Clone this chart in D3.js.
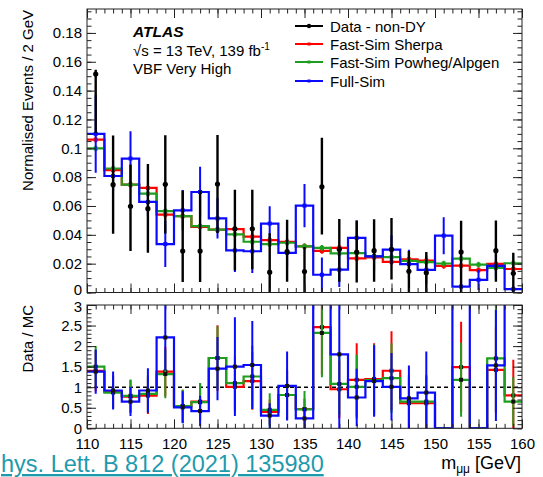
<!DOCTYPE html>
<html lang="en">
<head>
<meta charset="UTF-8">
<title>VBF Very High - m_mumu</title>
<script src="https://d3js.org/d3.v7.min.js"></script>
<style>
  body { margin: 0; background: #fff; }
  svg { display: block; font-family: "Liberation Sans", Arial, Helvetica, sans-serif; }
</style>
</head>
<body>
<svg id="chart"></svg>
<script>
// bins (2 GeV wide)
const binLow = [110, 112, 114, 116, 118, 120, 122, 124, 126, 128, 130, 132, 134,
                136, 138, 140, 142, 144, 146, 148, 150, 152, 154, 156, 158];
const binWidth = 2;

// top panel: normalised events
const dataVal   = [0.1515, 0.0748, 0.0598, 0.0581, 0.0750, 0.0287, 0.0287, 0.0752, 0.0442, 0.0442, 0.0141, 0.0284, 0.0145,
                   0.0733, 0.0300, 0.0280, 0.0290, 0.0300, 0.0147, 0.0137, null, 0.0280, null, 0.0290, 0.0133];
const dataErrLo = [0.041, 0.034, 0.031, 0.0305, 0.034, 0.0215, 0.0215, 0.034, 0.029, 0.028, 0.020, 0.021, 0.020,
                   0.033, 0.0225, 0.021, 0.0215, 0.021, 0.020, 0.020, null, 0.028, null, 0.0215, 0.020];
const dataErrHi = [0.003, 0.034, 0.029, 0.031, 0.034, 0.042, 0.042, 0.034, 0.027, 0.027, 0.027, 0.022, 0.017,
                   0.034, 0.021, 0.022, 0.0218, 0.0217, 0.014, 0.0143, null, 0.0217, null, 0.021, 0.0143];

const sherpa  = [0.106, 0.0848, 0.0748, 0.0725, 0.054, 0.053, 0.0455, 0.0436, 0.0440, 0.0387, 0.0363, 0.0352, 0.032,
                 0.0288, 0.031, 0.0236, 0.0243, 0.0213, 0.0230, 0.0221, 0.0185, 0.0186, 0.0155, 0.0199, 0.0163];
const powheg  = [0.0999, 0.086, 0.0748, 0.0686, 0.0565, 0.053, 0.046, 0.0436, 0.0403, 0.0352, 0.0335, 0.0345, 0.032,
                 0.031, 0.0271, 0.0273, 0.0252, 0.0246, 0.0219, 0.0211, 0.0201, 0.0235, 0.0193, 0.0170, 0.0203];
const fullSim = [0.110, 0.0808, 0.0929, 0.0628, 0.0336, 0.057, 0.0697, 0.0514, 0.0292, 0.0286, 0.0478, 0.0275, 0.0602,
                 0.0123, 0.0158, 0.0379, 0.025, 0.0297, 0.0197, 0.0157, 0.0394, 0.0041, 0.0088, 0.0185, 0.0023];
const sherpaErr  = [0.002, 0.002, 0.002, 0.002, 0.002, 0.002, 0.002, 0.002, 0.002, 0.002, 0.002, 0.002, 0.002,
                    0.002, 0.002, 0.002, 0.002, 0.002, 0.002, 0.002, 0.002, 0.002, 0.002, 0.002, 0.002];
const powhegErr  = [0.002, 0.002, 0.002, 0.002, 0.002, 0.002, 0.002, 0.002, 0.002, 0.002, 0.002, 0.002, 0.002,
                    0.002, 0.002, 0.002, 0.002, 0.002, 0.002, 0.002, 0.002, 0.002, 0.002, 0.002, 0.002];
const fullSimErr = [0.027, 0.010, 0.019, 0.010, 0.016, 0.014, 0.0175, 0.014, 0.015, 0.015, 0.012, 0.010, 0.015,
                    0.012, 0.012, 0.012, 0.010, 0.010, 0.010, 0.010, 0.0128, 0.002, 0.007, 0.008, 0.002];

// bottom panel: data / MC
const ratioSherpa = [1.40, 0.885, 0.77, 0.795, 1.38, 0.54, 0.65, 1.71, 1.01, 1.15, 0.40, 0.81, 0.47,
                     2.46, 0.95, 1.18, 1.20, 1.40, 0.61, 0.61, 0, 1.49, 0, 1.42, 0.80];
const ratioPowheg = [1.50, 0.87, 0.79, 0.84, 1.32, 0.54, 0.635, 1.71, 1.10, 1.26, 0.45, 0.81, 0.46,
                     2.32, 1.08, 1.01, 1.17, 1.22, 0.65, 0.65, 0, 1.18, 0, 1.70, 0.65];
const ratioFull   = [1.38, 0.92, 0.65, 0.92, 2.21, 0.51, 0.42, 1.45, 1.50, 1.54, 0.31, 1.03, 0.24,
                     5.95, 1.80, 0.75, 1.15, 1.01, 0.73, 0.87, 0, 6.40, 0, 1.53, 5.50];
const ratioSherpaErr = [0.50, 0.40, 0.40, 0.45, 0.60, 0.40, 0.45, 0.80, 0.60, 0.70, 0.30, 0.60, 0.25,
                        1.15, 0.70, 0.89, 0.87, 0.96, 0.65, 0.65, 0, 1.10, 0, 1.05, 0.87];
const ratioPowhegErr = [0.50, 0.40, 0.40, 0.45, 0.59, 0.40, 0.47, 0.77, 0.65, 0.75, 0.40, 0.60, 0.45,
                        1.08, 0.75, 0.78, 0.87, 0.85, 0.65, 0.65, 0, 0.90, 0, 1.30, 0.60];
const ratioFullErr   = [0.54, 0.46, 0.35, 0.54, 0.80, 0.39, 0.37, 0.77, 1.20, 1.07, 0.30, 0.84, 0.25,
                        0, 1.90, 0.70, 0.87, 0.82, 0.80, 1.00, 0, 0, 0, 1.35, 0];

// axis ticks / labels
const xTicks = [110, 115, 120, 125, 130, 135, 140, 145, 150, 155, 160];
const topYTicks = [0, 0.02, 0.04, 0.06, 0.08, 0.1, 0.12, 0.14, 0.16, 0.18];
const ratioYTicks = [0, 0.5, 1, 1.5, 2, 2.5, 3];

const legendLabels = ["Data - non-DY", "Fast-Sim Sherpa", "Fast-Sim Powheg/Alpgen", "Full-Sim"];
const colors = { data: "#000000", sherpa: "#ff0000", powheg: "#1e9e1e", full: "#0a0aff" };

const W = 543, H = 477;
const svg = d3.select("#chart").attr("width", W).attr("height", H);

const x = d3.scaleLinear().domain([110, 160]).range([87, 522]);
const yTop = d3.scaleLinear().domain([0, 0.1966]).range([292.5, 9]);
const yRat = d3.scaleLinear().domain([0, 3]).range([428.3, 305]);

// clip paths
const defs = svg.append("defs");
defs.append("clipPath").attr("id", "clipTop").append("rect")
    .attr("x", x(110)).attr("y", yTop(0.1966)).attr("width", x(160) - x(110)).attr("height", yTop(0) - yTop(0.1966));
defs.append("clipPath").attr("id", "clipRat").append("rect")
    .attr("x", x(110)).attr("y", yRat(3)).attr("width", x(160) - x(110)).attr("height", yRat(0) - yRat(3));

function styleAxis(g, fontSize) {
    g.select(".domain").remove();
    g.attr("font-family", null).attr("font-size", null);
    g.selectAll("line").attr("stroke", "#222").attr("stroke-width", 1);
    g.selectAll("text").attr("fill", "#000").style("font-size", fontSize + "px");
}

// ticks on all four sides of a panel
function drawFrameAxes(y, yMajor, yMinor, y0, y1, withLabels, yFmt) {
    const bottom = y(y0), top = y(y1);
    // left
    svg.append("g").attr("transform", `translate(${x(110)},0)`)
        .call(d3.axisLeft(y).tickValues(yMinor).tickSizeInner(-4.5).tickSizeOuter(0).tickFormat(""))
        .call(g => styleAxis(g, 15));
    const left = svg.append("g").attr("transform", `translate(${x(110)},0)`)
        .call(d3.axisLeft(y).tickValues(yMajor).tickSizeInner(-9).tickSizeOuter(0).tickPadding(5).tickFormat(yFmt))
        .call(g => styleAxis(g, 15));
    // right
    svg.append("g").attr("transform", `translate(${x(160)},0)`)
        .call(d3.axisRight(y).tickValues(yMinor).tickSizeInner(-4.5).tickSizeOuter(0).tickFormat(""))
        .call(g => styleAxis(g, 15));
    svg.append("g").attr("transform", `translate(${x(160)},0)`)
        .call(d3.axisRight(y).tickValues(yMajor).tickSizeInner(-9).tickSizeOuter(0).tickFormat(""))
        .call(g => styleAxis(g, 15));
    // bottom
    svg.append("g").attr("transform", `translate(0,${bottom})`)
        .call(d3.axisBottom(x).tickValues(d3.range(110, 161, 1)).tickSizeInner(-4.5).tickSizeOuter(0).tickFormat(""))
        .call(g => styleAxis(g, 15));
    svg.append("g").attr("transform", `translate(0,${bottom})`)
        .call(d3.axisBottom(x).tickValues(xTicks).tickSizeInner(-9).tickSizeOuter(0).tickPadding(10)
              .tickFormat(withLabels ? d => String(d) : ""))
        .call(g => styleAxis(g, 15));
    // top
    svg.append("g").attr("transform", `translate(0,${top})`)
        .call(d3.axisTop(x).tickValues(d3.range(110, 161, 1)).tickSizeInner(-4.5).tickSizeOuter(0).tickFormat(""))
        .call(g => styleAxis(g, 15));
    svg.append("g").attr("transform", `translate(0,${top})`)
        .call(d3.axisTop(x).tickValues(xTicks).tickSizeInner(-9).tickSizeOuter(0).tickFormat(""))
        .call(g => styleAxis(g, 15));
    // frame
    svg.append("rect").attr("x", x(110)).attr("y", top)
        .attr("width", x(160) - x(110)).attr("height", bottom - top)
        .attr("fill", "none").attr("stroke", "#222").attr("stroke-width", 1);
    return left;
}

function histPath(vals, y) {
    const pts = binLow.map((lo, i) => [x(lo), y(vals[i])]);
    pts.push([x(binLow[binLow.length - 1] + binWidth), y(vals[vals.length - 1])]);
    return d3.line().curve(d3.curveStepAfter)(pts);
}

function drawHist(layer, vals, errs, y, color, markerColor, yMax) {
    layer.append("path").attr("d", histPath(vals, y))
        .attr("fill", "none").attr("stroke", color).attr("stroke-width", 2.2);
    binLow.forEach((lo, i) => {
        const v = vals[i], e = errs[i];
        if (v === null || v <= 0 || v > yMax) return;
        const cx = x(lo + binWidth / 2);
        if (e > 0) {
            layer.append("line").attr("x1", cx).attr("x2", cx)
                .attr("y1", y(v - e)).attr("y2", y(v + e))
                .attr("stroke", color).attr("stroke-width", 2);
        }
        layer.append("rect").attr("x", cx - 2).attr("y", y(v) - 2)
            .attr("width", 4).attr("height", 4).attr("fill", markerColor);
    });
}

// ---------- top panel ----------
const topLayer = svg.append("g").attr("clip-path", "url(#clipTop)");
drawHist(topLayer, sherpa, sherpaErr, yTop, colors.sherpa, colors.sherpa, 1);
drawHist(topLayer, powheg, powhegErr, yTop, colors.powheg, colors.powheg, 1);
drawHist(topLayer, fullSim, fullSimErr, yTop, colors.full, colors.full, 1);

binLow.forEach((lo, i) => {
    if (dataVal[i] === null) return;
    const cx = x(lo + binWidth / 2);
    topLayer.append("line").attr("x1", cx).attr("x2", cx)
        .attr("y1", yTop(Math.max(0, dataVal[i] - dataErrLo[i]))).attr("y2", yTop(dataVal[i] + dataErrHi[i]))
        .attr("stroke", colors.data).attr("stroke-width", 2.4);
    topLayer.append("circle").attr("cx", cx).attr("cy", yTop(dataVal[i])).attr("r", 2.6).attr("fill", colors.data);
});

const topLeft = drawFrameAxes(yTop, topYTicks, d3.range(0, 0.196, 0.005), 0, 0.1966, false, d => String(d));
// lift the "0" a little, as in the original, so it clears the ratio "3"
topLeft.selectAll(".tick").filter(d => d === 0).select("text").attr("y", -3);

// ---------- ratio panel ----------
const ratLayer = svg.append("g").attr("clip-path", "url(#clipRat)");
ratLayer.append("line").attr("x1", x(110)).attr("x2", x(160)).attr("y1", yRat(1)).attr("y2", yRat(1))
    .attr("stroke", "#000").attr("stroke-width", 1.6).attr("stroke-dasharray", "4,3");
drawHist(ratLayer, ratioSherpa, ratioSherpaErr, yRat, colors.sherpa, "#111", 3);
drawHist(ratLayer, ratioPowheg, ratioPowhegErr, yRat, colors.powheg, "#111", 3);
drawHist(ratLayer, ratioFull, ratioFullErr, yRat, colors.full, "#111", 3);

const ratLeft = drawFrameAxes(yRat, ratioYTicks, d3.range(0, 3.01, 0.1), 0, 3, true, d => String(d));
ratLeft.selectAll(".tick").filter(d => d === 3).select("text").attr("y", 2);

// ---------- texts ----------
svg.append("text").attr("transform", "translate(33,10) rotate(-90)")
    .attr("text-anchor", "end").style("font-size", "15px").text("Normalised Events / 2 GeV");
svg.append("text").attr("transform", "translate(33,305) rotate(-90)")
    .attr("text-anchor", "end").style("font-size", "15px").text("Data / MC");

const xt = svg.append("text").attr("x", 521).attr("y", 469).attr("text-anchor", "end").style("font-size", "18px");
xt.append("tspan").text("m");
xt.append("tspan").attr("dy", 4).style("font-size", "12px").text("μμ");
xt.append("tspan").attr("dy", -4).text(" [GeV]");

svg.append("text").attr("x", 133).attr("y", 37).style("font-size", "15.5px")
    .attr("font-weight", "bold").attr("font-style", "italic").text("ATLAS");
const en = svg.append("text").attr("x", 133).attr("y", 56).style("font-size", "15px");
en.append("tspan").text("√s = 13 TeV, 139 fb");
en.append("tspan").attr("dy", -6).style("font-size", "10px").text("-1");
svg.append("text").attr("x", 133).attr("y", 74).style("font-size", "15px").text("VBF Very High");

// legend
const legendY = [26, 44, 62, 81];
const legendColors = [colors.data, colors.sherpa, colors.powheg, colors.full];
legendLabels.forEach((lab, i) => {
    const g = svg.append("g");
    g.append("line").attr("x1", 295).attr("x2", 323).attr("y1", legendY[i]).attr("y2", legendY[i])
        .attr("stroke", legendColors[i]).attr("stroke-width", 2);
    if (i === 0) g.append("circle").attr("cx", 309).attr("cy", legendY[i]).attr("r", 2.2).attr("fill", "#000");
    else g.append("rect").attr("x", 307.5).attr("y", legendY[i] - 1.5).attr("width", 3).attr("height", 3).attr("fill", legendColors[i]);
    g.append("text").attr("x", 330).attr("y", legendY[i] + 5.5).style("font-size", "15px").text(lab);
});

// citation link (cut at the left edge)
svg.append("text").attr("x", 1).attr("y", 472).style("font-size", "23.5px")
    .attr("fill", "#1f9aad").attr("text-decoration", "underline")
    .text("hys. Lett. B 812 (2021) 135980");
</script>
</body>
</html>
